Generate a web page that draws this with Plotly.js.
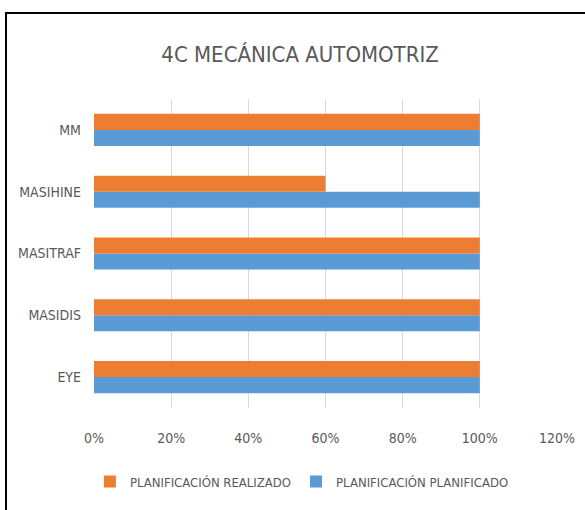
<!DOCTYPE html>
<html>
<head>
<meta charset="utf-8">
<script src="https://cdn.plot.ly/plotly-3.0.1.min.js"></script>
<style>
  html, body { margin: 0; padding: 0; background: #fff; overflow: hidden; }
  #chart { position: absolute; left: 0; top: 0; width: 585px; height: 510px; }
  #frame { position: absolute; left: 5px; top: 12px; width: 620px; height: 540px;
           border: 2px solid #000; pointer-events: none; box-sizing: border-box; }
</style>
</head>
<body>
<div id="chart"></div>
<div id="frame"></div>
<script>
const categories = ["EYE", "MASIDIS", "MASITRAF", "MASIHINE", "MM"];
const planificado = [1.0, 1.0, 1.0, 1.0, 1.0];
const realizado = [1.0, 1.0, 1.0, 0.6, 1.0];
const seriesNames = ["PLANIFICACIÓN PLANIFICADO", "PLANIFICACIÓN REALIZADO"];
const xTicks = [0, 0.2, 0.4, 0.6, 0.8, 1.0, 1.2];
const xTickLabels = ["0%", "20%", "40%", "60%", "80%", "100%", "120%"];

const FONT = "'DejaVu Sans Condensed', 'Liberation Sans Narrow', sans-serif";
const GREY = "#595959";

const traces = [
  { type: "bar", orientation: "h", y: categories, x: planificado, name: seriesNames[0],
    marker: { color: "#5B9BD5" }, hoverinfo: "x+y" },
  { type: "bar", orientation: "h", y: categories, x: realizado, name: seriesNames[1],
    marker: { color: "#ED7D31" }, hoverinfo: "x+y" }
];

const layout = {
  width: 585, height: 510,
  paper_bgcolor: "#fff", plot_bgcolor: "#fff",
  margin: { l: 94, r: 28, t: 99, b: 102, pad: 0 },
  font: { family: FONT, color: GREY, size: 14 },
  title: { text: "4C MECÁNICA AUTOMOTRIZ", font: { family: FONT, size: 22, color: GREY },
           x: 0.513, xanchor: "center", y: 1 - 54 / 510, yanchor: "middle", yref: "container" },
  barmode: "group", bargap: 0.48, bargroupgap: 0,
  xaxis: { range: [0, 1.2], tickvals: xTicks, ticktext: xTickLabels,
           showgrid: true, gridcolor: "#d9d9d9", gridwidth: 1,
           zeroline: false, showline: false, ticks: "", ticklabelstandoff: 20,
           tickfont: { family: FONT, size: 14, color: GREY }, fixedrange: true },
  yaxis: { type: "category", showgrid: false, zeroline: false, showline: false, ticks: "",
           ticklabelstandoff: 12,
           tickfont: { family: FONT, size: 14, color: GREY }, fixedrange: true },
  showlegend: true,
  legend: { orientation: "h", traceorder: "reversed", x: 0.449, xanchor: "center",
            y: -0.238, yanchor: "middle", font: { family: FONT, size: 13, color: GREY },
            itemwidth: 30, bgcolor: "rgba(0,0,0,0)" }
};

Plotly.newPlot("chart", traces, layout, { displayModeBar: false, staticPlot: true });
</script>
</body>
</html>
